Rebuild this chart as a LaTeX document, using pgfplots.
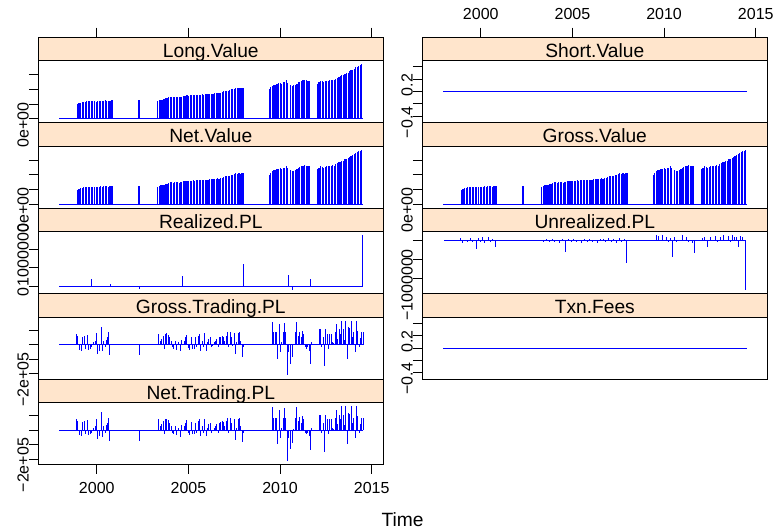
\documentclass[border=0pt]{standalone}
\usepackage{fontspec}
\setmainfont{Liberation Sans}
\usepackage{pgfplots}
\usepackage{pgfplotstable}
\pgfplotsset{compat=1.18}
\definecolor{stripcol}{HTML}{FFE5CC}
\definecolor{linecol}{HTML}{0000FF}

\pgfplotstableread{
t v
1998.95 1.00
1999.03 1.05
1999.12 1.10
1999.20 1.12
1999.28 1.15
1999.37 1.17
1999.45 1.18
1999.53 1.20
1999.62 1.18
1999.70 1.20
1999.78 1.20
1999.86 1.20
1999.97 1.15
2000.05 1.18
2000.13 1.20
2000.22 1.22
2000.30 1.18
2000.38 1.22
2000.47 1.25
2000.55 1.22
2000.63 1.20
2000.72 1.22
2000.80 1.25
2000.87 1.26
2002.30 1.26
2003.33 1.20
2003.42 1.26
2003.50 1.28
2003.58 1.30
2003.67 1.33
2003.75 1.38
2003.83 1.40
2003.92 1.45
2004.00 1.49
2004.08 1.50
2004.17 1.48
2004.25 1.50
2004.33 1.49
2004.42 1.50
2004.50 1.48
2004.58 1.50
2004.64 1.49
2004.76 1.55
2004.84 1.58
2004.92 1.60
2005.01 1.58
2005.09 1.61
2005.17 1.60
2005.26 1.62
2005.34 1.60
2005.42 1.63
2005.51 1.62
2005.59 1.64
2005.67 1.63
2005.76 1.66
2005.84 1.65
2005.92 1.67
2006.01 1.68
2006.09 1.67
2006.17 1.70
2006.26 1.69
2006.34 1.71
2006.42 1.72
2006.51 1.74
2006.59 1.76
2006.67 1.75
2006.76 1.78
2006.84 1.82
2006.92 1.86
2007.01 1.90
2007.09 1.92
2007.17 1.91
2007.26 1.94
2007.34 2.00
2007.42 2.02
2007.51 2.05
2007.59 2.10
2007.67 2.08
2007.76 2.12
2007.84 2.06
2007.92 2.10
2008.00 2.11
2009.42 2.00
2009.50 2.15
2009.58 2.25
2009.67 2.30
2009.75 2.32
2009.83 2.38
2009.92 2.42
2010.00 2.45
2010.08 2.40
2010.17 2.50
2010.25 2.48
2010.33 2.62
2010.40 2.45
2010.55 2.33
2010.67 2.25
2010.75 2.28
2010.83 2.32
2010.92 2.40
2011.00 2.48
2011.08 2.52
2011.17 2.58
2011.25 2.62
2011.33 2.64
2011.42 2.63
2011.50 2.60
2011.58 2.58
2012.04 2.40
2012.12 2.50
2012.21 2.58
2012.29 2.55
2012.37 2.48
2012.46 2.55
2012.54 2.60
2012.62 2.58
2012.71 2.62
2012.79 2.62
2012.87 2.65
2012.96 2.63
2013.04 2.72
2013.12 2.80
2013.21 2.85
2013.29 2.88
2013.37 2.95
2013.46 2.98
2013.54 3.05
2013.62 3.10
2013.71 3.15
2013.79 3.22
2013.87 3.30
2013.96 3.35
2014.04 3.42
2014.12 3.50
2014.21 3.55
2014.29 3.60
2014.37 3.65
2014.45 3.71
}\valuedata

\pgfplotstableread{
t v
1998.91 0.73
1998.96 0.61
1999.05 -0.36
1999.15 -0.41
1999.24 0.55
1999.31 0.61
1999.38 -0.30
1999.47 0.68
1999.55 -0.36
1999.64 -0.30
1999.73 -0.18
1999.82 0.16
1999.91 0.27
1999.98 0.77
2000.05 -0.64
2000.15 -0.41
2000.24 1.23
2000.31 -0.45
2000.38 0.27
2000.45 -0.18
2000.51 0.32
2000.58 0.50
2000.65 0.84
2000.71 -0.75
2002.33 -0.75
2003.38 0.73
2003.45 0.27
2003.55 0.39
2003.64 0.61
2003.69 -0.30
2003.76 0.73
2003.82 0.77
2003.91 0.68
2003.98 0.50
2004.05 0.27
2004.13 -0.18
2004.20 -0.30
2004.27 0.27
2004.36 -0.36
2004.45 0.16
2004.55 -0.45
2004.64 0.32
2004.76 0.27
2004.85 0.50
2004.91 0.68
2005.00 -0.23
2005.07 -0.36
2005.15 0.55
2005.22 -0.30
2005.31 -0.30
2005.38 0.50
2005.45 -0.18
2005.53 0.61
2005.60 0.73
2005.67 -0.41
2005.75 0.27
2005.82 -0.18
2005.89 0.77
2005.96 -0.41
2006.04 0.16
2006.11 0.39
2006.18 0.50
2006.25 -0.18
2006.33 -0.07
2006.40 0.16
2006.47 0.27
2006.55 0.39
2006.64 -0.18
2006.69 0.50
2006.76 0.55
2006.84 0.61
2006.91 0.55
2006.98 0.27
2007.05 0.61
2007.13 0.84
2007.20 -0.18
2007.27 0.84
2007.35 0.50
2007.42 -0.07
2007.49 0.77
2007.56 -0.68
2007.64 0.16
2007.71 0.77
2007.78 0.84
2007.85 0.27
2007.93 -0.82
2008.00 -0.18
2009.58 1.57
2009.65 0.84
2009.73 0.84
2009.80 0.84
2009.87 -0.98
2009.95 1.41
2010.02 -0.52
2010.09 0.16
2010.16 0.84
2010.24 1.52
2010.31 0.84
2010.38 -2.11
2010.45 -0.52
2010.55 -1.32
2010.65 -0.86
2010.73 0.05
2010.82 0.84
2010.91 1.59
2011.00 0.61
2011.07 0.89
2011.15 0.50
2011.22 0.95
2011.29 0.73
2011.36 -0.18
2011.44 -0.30
2011.51 -0.18
2011.58 -0.41
2011.65 -1.36
2011.73 0.16
2012.13 1.07
2012.20 1.07
2012.27 -0.18
2012.35 0.50
2012.42 -1.50
2012.49 1.07
2012.56 0.73
2012.64 -0.30
2012.71 0.73
2012.78 0.73
2012.85 0.16
2012.93 0.09
2013.00 0.84
2013.07 1.41
2013.15 0.39
2013.22 1.07
2013.29 0.73
2013.36 1.64
2013.44 1.07
2013.51 0.32
2013.58 1.64
2013.65 -0.98
2013.73 1.18
2013.80 1.14
2013.87 1.64
2013.95 0.50
2014.02 0.84
2014.09 -0.52
2014.16 1.64
2014.24 0.95
2014.31 -0.18
2014.38 0.45
2014.45 0.84
2014.53 0.84
}\tradingdata

\pgfplotstableread{
t v
1999.73 0.21
2000.73 0.07
2002.33 -0.06
2004.65 0.29
2008.00 0.59
2010.47 0.31
2010.65 -0.09
2011.65 0.21
2014.50 1.38
}\realizeddata

\pgfplotstableread{
t v
1998.91 0.06
1999.02 -0.05
1999.15 0.03
1999.28 -0.03
1999.42 0.06
1999.53 -0.03
1999.64 0.03
1999.75 -0.23
1999.86 0.07
1999.96 -0.03
2000.07 0.09
2000.18 -0.05
2000.29 0.03
2000.42 0.10
2000.54 -0.03
2000.65 0.05
2000.78 -0.16
2003.32 0.03
2003.44 -0.03
2003.59 0.04
2003.73 -0.02
2003.88 0.05
2004.02 -0.04
2004.17 0.03
2004.31 -0.05
2004.46 0.04
2004.64 -0.29
2004.78 0.05
2004.93 -0.03
2005.07 0.04
2005.22 -0.04
2005.36 0.03
2005.51 -0.05
2005.65 0.04
2005.80 -0.03
2005.94 0.05
2006.09 -0.04
2006.23 0.03
2006.38 -0.06
2006.52 0.04
2006.67 0.05
2006.81 -0.03
2006.96 0.06
2007.10 -0.04
2007.25 0.05
2007.39 -0.05
2007.54 0.07
2007.68 -0.04
2007.83 0.05
2007.97 -0.59
2009.57 0.15
2009.67 0.12
2009.78 0.03
2009.89 0.14
2010.00 0.02
2010.11 0.09
2010.22 -0.03
2010.33 0.06
2010.43 -0.42
2010.58 0.10
2010.69 -0.04
2010.83 0.03
2010.98 0.14
2011.09 0.02
2011.20 0.09
2011.30 -0.03
2011.41 0.03
2011.56 -0.05
2011.65 -0.33
2011.78 0.02
2011.92 0.03
2012.07 0.06
2012.19 0.10
2012.37 -0.16
2012.50 0.09
2012.64 0.03
2012.79 0.12
2012.93 -0.03
2013.08 0.10
2013.22 0.14
2013.37 0.02
2013.51 0.12
2013.62 -0.04
2013.73 0.15
2013.84 0.10
2013.95 0.09
2014.06 -0.16
2014.17 0.12
2014.28 0.09
2014.38 0.03
2014.46 -1.29
}\unrealizeddata

\pgfplotsset{
 panel/.style={scale only axis, width=258.75pt, height=46.5pt, xmin=1996.81, xmax=2015.63,
   anchor=north west, axis line style={line width=0.75pt}, tick align=outside,
   major tick length=7pt, every tick/.style={black, line width=0.75pt},
   xtick=\empty, ytick pos=left, yticklabel pos=left,
   yticklabel style={rotate=90, anchor=south, inner sep=0pt, xshift=-4.5pt, font=\fontsize{12}{14}\selectfont},
   xticklabel style={font=\fontsize{12}{14}\selectfont, yshift=-3pt}},
 strip/.style={scale only axis, width=258.75pt, height=17.625pt, xmin=1996.81, xmax=2015.63,
   ymin=0, ymax=1, anchor=north west, axis line style={line width=0.75pt},
   tick align=outside, major tick length=7pt, every tick/.style={black, line width=0.75pt},
   xtick=\empty, ytick=\empty, axis background/.style={fill=stripcol},
   xticklabel style={font=\fontsize{12}{14}\selectfont, yshift=2.25pt}},
 ser/.style={linecol, line width=0.6pt, mark=none},
 vser/.style={linecol, line width=0.85pt, mark=none},
 valuepanel/.style={ymin=-0.26, ymax=3.97, ytick={0,1,2,3}, yticklabels={0e+00,,,}},
 zeropanel/.style={ymin=-0.5, ymax=0.5, ytick={-0.4,-0.2,0,0.2,0.4}, yticklabels={−0.4,,,0.2,}},
 tradepanel/.style={ymin=-2.37, ymax=1.90, ytick={-2,-1,0,1}, yticklabels={−2e+05,,,}},
}
\newcommand{\striplabel}[1]{\node[anchor=base, yshift=2.6pt, font=\fontsize{14.4}{17}\selectfont] at (rel axis cs:0.5,0) {#1};}

\begin{document}
\begin{tikzpicture}
\path[use as bounding box] (0,0) rectangle (581.25pt,-396.75pt);

% ---------------- left column ----------------
% Long.Value
\begin{axis}[panel, valuepanel, at={(28.725pt,-45.375pt)}]
\addplot[ser] coordinates {(1997.96,0) (2014.54,0)};
\addplot[vser, ycomb] table[x=t,y=v] {\valuedata};
\end{axis}
\begin{axis}[strip, at={(28.725pt,-27.75pt)}, xtick={2000,2005,2010,2015}, xtick pos=right, xticklabel pos=right, xticklabels={,,,}]
\striplabel{Long.Value}
\end{axis}

% Net.Value
\begin{axis}[panel, valuepanel, at={(28.725pt,-109.5pt)}]
\addplot[ser] coordinates {(1997.96,0) (2014.54,0)};
\addplot[vser, ycomb] table[x=t,y=v] {\valuedata};
\end{axis}
\begin{axis}[strip, at={(28.725pt,-91.875pt)}]
\striplabel{Net.Value}
\end{axis}

% Realized.PL
\begin{axis}[panel, at={(28.725pt,-173.625pt)}, ymin=-0.19, ymax=1.47, ytick={0,0.5,1}, yticklabels={0,,1000000}]
\addplot[ser] coordinates {(1997.96,0) (2014.54,0)};
\addplot[ser, ycomb] table[x=t,y=v] {\realizeddata};
\end{axis}
\begin{axis}[strip, at={(28.725pt,-156pt)}]
\striplabel{Realized.PL}
\end{axis}

% Gross.Trading.PL
\begin{axis}[panel, tradepanel, at={(28.725pt,-237.75pt)}]
\addplot[ser] coordinates {(1997.96,0) (2014.54,0)};
\addplot[ser, ycomb] table[x=t,y=v] {\tradingdata};
\end{axis}
\begin{axis}[strip, at={(28.725pt,-220.125pt)}]
\striplabel{Gross.Trading.PL}
\end{axis}

% Net.Trading.PL
\begin{axis}[panel, tradepanel, at={(28.725pt,-301.875pt)}, xtick={2000,2005,2010,2015}, xtick pos=left, xticklabel pos=left, xticklabels={2000,2005,2010,2015}]
\addplot[ser] coordinates {(1997.96,0) (2014.54,0)};
\addplot[ser, ycomb] table[x=t,y=v] {\tradingdata};
\end{axis}
\begin{axis}[strip, at={(28.725pt,-284.25pt)}]
\striplabel{Net.Trading.PL}
\end{axis}

% ---------------- right column ----------------
% Short.Value
\begin{axis}[panel, zeropanel, at={(316.725pt,-45.375pt)}]
\addplot[ser] coordinates {(1997.96,0) (2014.54,0)};
\end{axis}
\begin{axis}[strip, at={(316.725pt,-27.75pt)}, xtick={2000,2005,2010,2015}, xtick pos=right, xticklabel pos=right, xticklabels={2000,2005,2010,2015}]
\striplabel{Short.Value}
\end{axis}

% Gross.Value
\begin{axis}[panel, valuepanel, at={(316.725pt,-109.5pt)}]
\addplot[ser] coordinates {(1997.96,0) (2014.54,0)};
\addplot[vser, ycomb] table[x=t,y=v] {\valuedata};
\end{axis}
\begin{axis}[strip, at={(316.725pt,-91.875pt)}]
\striplabel{Gross.Value}
\end{axis}

% Unrealized.PL
\begin{axis}[panel, at={(316.725pt,-173.625pt)}, ymin=-1.38, ymax=0.24, ytick={-1,-0.5,0}, yticklabels={−1000000,,}]
\addplot[ser] coordinates {(1998.01,0) (2014.46,0)};
\addplot[ser, ycomb] table[x=t,y=v] {\unrealizeddata};
\end{axis}
\begin{axis}[strip, at={(316.725pt,-156pt)}]
\striplabel{Unrealized.PL}
\end{axis}

% Txn.Fees
\begin{axis}[panel, zeropanel, at={(316.725pt,-237.75pt)}]
\addplot[ser] coordinates {(1997.96,0) (2014.54,0)};
\end{axis}
\begin{axis}[strip, at={(316.725pt,-220.125pt)}]
\striplabel{Txn.Fees}
\end{axis}

\node[anchor=base, font=\fontsize{14.4}{17}\selectfont] at (301.9pt,-395pt) {Time};
\end{tikzpicture}
\end{document}
